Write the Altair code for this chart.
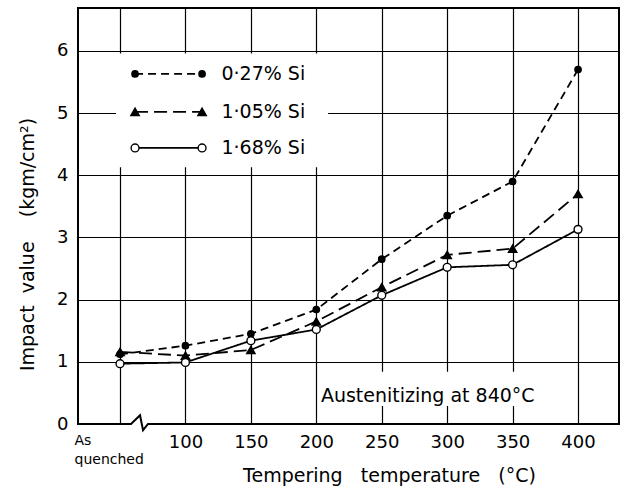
import altair as alt
import pandas as pd

# ---- data ----
# evenly spaced x positions; 50 stands for "As quenched"
temp_pos = [50, 100, 150, 200, 250, 300, 350, 400]
x_tick_values = [50, 100, 150, 200, 250, 300, 350, 400]
y_tick_values = [0, 1, 2, 3, 4, 5, 6]

series_names = ["0·27% Si", "1·05% Si", "1·68% Si"]
impact_027 = [1.12, 1.26, 1.45, 1.84, 2.65, 3.35, 3.90, 5.70]
impact_105 = [1.16, 1.10, 1.19, 1.65, 2.20, 2.72, 2.82, 3.70]
impact_168 = [0.97, 0.99, 1.34, 1.52, 2.07, 2.52, 2.56, 3.13]

NB = "\u00a0"
note_text = "Austenitizing at 840°C"
x_title = "Tempering" + NB * 3 + "temperature" + NB * 3 + "(°C)"
y_title = "Impact" + NB * 2 + "value" + NB * 4 + "(kgm/cm²)"

rows = []
for name, vals in zip(series_names, [impact_027, impact_105, impact_168]):
    for p, v in zip(temp_pos, vals):
        rows.append({"series": name, "pos": p, "impact": v})
df = pd.DataFrame(rows)

# ---- styles ----
FONT = "DejaVu Sans"
styles = {
    series_names[0]: dict(dash=[8, 5], shape="circle", fill="black", size=40),
    series_names[1]: dict(dash=[13, 6], shape="triangle-up", fill="black", size=70),
    series_names[2]: dict(dash=[1, 0], shape="circle", fill="white", size=62),
}

xs = alt.Scale(domain=[17.9, 431.3], nice=False, zero=False)
ys = alt.Scale(domain=[0, 6.69], nice=False, zero=False)

is_aq = "datum.value == 50"
x_axis = alt.Axis(
    values=x_tick_values, grid=True, gridColor="black", gridWidth=1.2, gridOpacity=1,
    domain=False, ticks=False, labelOverlap=False,
    labelExpr="datum.value == 50 ? ['As', 'quenched'] : datum.label",
    labelFont=FONT, labelColor="black", labelPadding=9, labelLineHeight=19,
    labelBaseline="top",
    labelFontSize={"condition": {"test": is_aq, "value": 14}, "value": 18},
    labelAlign={"condition": {"test": is_aq, "value": "left"}, "value": "center"},
    labelOffset={"condition": {"test": is_aq, "value": -46}, "value": 0},
    title=x_title, titleFont=FONT, titleFontSize=19,
    titleFontWeight="normal", titleColor="black", titleX=311, titleY=57,
    titleBaseline="alphabetic", titleAlign="center",
)
y_axis = alt.Axis(
    values=y_tick_values, grid=True, gridColor="black", gridWidth=1.2, gridOpacity=1,
    domain=False, ticks=False, labelFont=FONT, labelFontSize=18, labelColor="black",
    labelPadding=10,
    title=y_title, titleFont=FONT, titleFontSize=19,
    titleFontWeight="normal", titleColor="black", titleX=-51, titleY=236,
    titleBaseline="middle", titleAlign="center",
)


def X(field):
    return alt.X(field, scale=xs, axis=x_axis, title=x_title)


def Y(field):
    return alt.Y(field, scale=ys, axis=y_axis, title=y_title)


# white panels behind the legend and the note (they hide the grid there)
boxes = pd.DataFrame({
    "x": [47.0, 201.5], "x2": [209.0, 396.0],
    "y": [4.13, 0.29], "y2": [5.96, 0.84],
})
box_layer = alt.Chart(boxes).mark_rect(fill="white").encode(
    x=X("x:Q"), x2="x2:Q", y=Y("y:Q"), y2="y2:Q")

layers = [box_layer]

# legend placement (data units)
leg_x0, leg_x1, leg_tx = 61.5, 112.7, 127.5
leg_y = [5.63, 5.02, 4.44]

for i, name in enumerate(series_names):
    st = styles[name]
    d = df[df.series == name]
    line = alt.Chart(d).mark_line(color="black", strokeWidth=1.8, strokeDash=st["dash"]).encode(
        x=X("pos:Q"), y=Y("impact:Q"))
    pts = alt.Chart(d).mark_point(shape=st["shape"], filled=True, fill=st["fill"], stroke="black",
                                  strokeWidth=1.4, size=st["size"], opacity=1).encode(
        x=X("pos:Q"), y=Y("impact:Q"))
    ld = pd.DataFrame({"x": [leg_x0, leg_x1], "y": [leg_y[i], leg_y[i]], "series": [name, name]})
    lline = alt.Chart(ld).mark_line(color="black", strokeWidth=1.8, strokeDash=st["dash"]).encode(
        x=X("x:Q"), y=Y("y:Q"))
    lpts = alt.Chart(ld).mark_point(shape=st["shape"], filled=True, fill=st["fill"], stroke="black",
                                    strokeWidth=1.4, size=st["size"], opacity=1).encode(
        x=X("x:Q"), y=Y("y:Q"))
    lt = pd.DataFrame({"x": [leg_tx], "y": [leg_y[i]], "label": [name]})
    ltext = alt.Chart(lt).mark_text(align="left", baseline="middle", font=FONT, fontSize=19,
                                    color="black").encode(
        x=X("x:Q"), y=Y("y:Q"), text="label:N")
    layers += [line, pts, lline, lpts, ltext]

note = pd.DataFrame({"x": [203.5], "y": [0.36], "label": [note_text]})
note_layer = alt.Chart(note).mark_text(align="left", baseline="alphabetic", font=FONT, fontSize=19,
                                       color="black").encode(
    x=X("x:Q"), y=Y("y:Q"), text="label:N")
layers.append(note_layer)

# axis break symbol on the bottom border
gap = pd.DataFrame({"x": [58.4], "x2": [71.4], "y": [0.0]})
gap_layer = alt.Chart(gap).mark_rule(color="white", strokeWidth=5).encode(
    x=X("x:Q"), x2="x2:Q", y=Y("y:Q"))
brk = pd.DataFrame({"x": [56.0, 58.4, 65.3, 67.6, 71.4, 74.0],
                    "y": [0.0, 0.0, 0.14, -0.10, 0.0, 0.0], "o": [0, 1, 2, 3, 4, 5]})
brk_layer = alt.Chart(brk).mark_line(color="black", strokeWidth=2, clip=False).encode(
    x=X("x:Q"), y=Y("y:Q"), order="o:Q")
layers += [gap_layer, brk_layer]

chart = alt.layer(*layers).properties(
    width=541, height=416,
    padding={"left": 78, "top": 8, "right": 9, "bottom": 64},
    autosize=alt.AutoSizeParams(type="none"),
    background="white",
).configure_view(stroke="black", strokeWidth=2)

chart.save("out.html", embed_options={"renderer": "svg", "actions": False})
